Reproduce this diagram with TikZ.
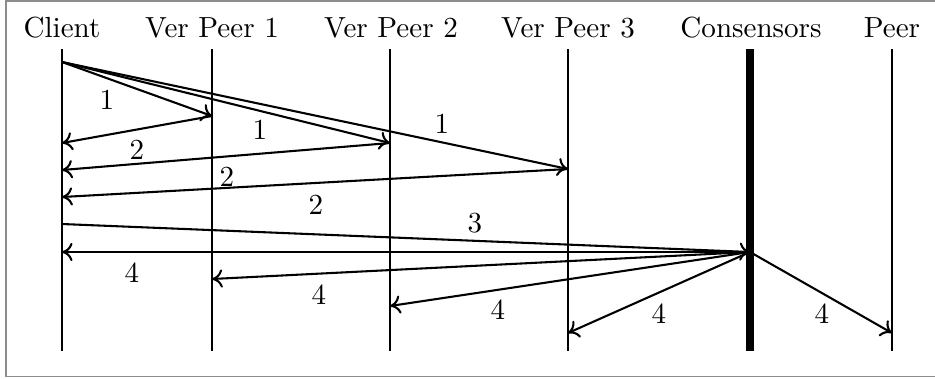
\documentclass[tikz,border=0pt]{standalone}
\usetikzlibrary{arrows.meta}
\begin{document}
\begin{tikzpicture}[x=0.3612pt,y=-0.3612pt,
  font=\fontsize{10.5}{12.6}\selectfont,
  life/.style={line width=0.75pt},
  thicklife/.style={line width=2.6pt},
  msg/.style={line width=0.75pt,-{To[length=3.8pt,width=6.6pt]}},
  head/.style={anchor=base,inner sep=0pt},
  lbl/.style={inner sep=0pt},
  frame/.style={draw=black!45,line width=0.5pt}]
\useasboundingbox (0,0) rectangle (935,378);
\draw[frame] (935,0.8) -- (6,0.8) -- (6,376.5) -- (935,376.5);
% headers
\node[head] (hc) at (62,37) {Client};
\node[head] (h1) at (212,37) {Ver Peer 1};
\node[head] (h2) at (391,37) {Ver Peer 2};
\node[head] (h3) at (568,37) {Ver Peer 3};
\node[head] (hs) at (751,37) {Consensors};
\node[head] (hp) at (892,37) {Peer};
% lifeline ends
\coordinate (ct) at (62,49);  \coordinate (cb) at (62,351);
\coordinate (at) at (212,49); \coordinate (ab) at (212,351);
\coordinate (bt) at (390,49); \coordinate (bb) at (390,351);
\coordinate (dt) at (568,49); \coordinate (db) at (568,351);
\coordinate (st) at (750,49); \coordinate (sb) at (750,351);
\coordinate (pt) at (892,49); \coordinate (pb) at (892,351);
% event points
\coordinate (c0) at (62,62);
\coordinate (a1) at (212,116);
\coordinate (b1) at (390,143);
\coordinate (d1) at (568,169);
\coordinate (c2a) at (62,143);
\coordinate (c2b) at (62,170);
\coordinate (c2c) at (62,197);
\coordinate (c3) at (62,224);
\coordinate (s3) at (750,252);
\coordinate (c4) at (62,252);
\coordinate (a4) at (212,279);
\coordinate (b4) at (390,306);
\coordinate (d4) at (568,333);
\coordinate (p4) at (892,333);
% messages
\draw[msg] (c0) -- (a1);
\draw[msg] (c0) -- (b1);
\draw[msg] (c0) -- (d1);
\draw[msg] (a1) -- (c2a);
\draw[msg] (b1) -- (c2b);
\draw[msg] (d1) -- (c2c);
\draw[msg] (c3) -- (s3);
\draw[msg] (s3) -- (c4);
\draw[msg] (s3) -- (a4);
\draw[msg] (s3) -- (b4);
\draw[msg] (s3) -- (d4);
\draw[msg] (s3) -- (p4);
% lifelines
\draw[life] (ct) -- (cb);
\draw[life] (at) -- (ab);
\draw[life] (bt) -- (bb);
\draw[life] (dt) -- (db);
\draw[thicklife] (st) -- (sb);
\draw[life] (pt) -- (pb);
% labels
\node[lbl] (l1a) at (107,100) {1};
\node[lbl] (l1b) at (260,130) {1};
\node[lbl] (l1c) at (442,124) {1};
\node[lbl] (l2a) at (137,150) {2};
\node[lbl] (l2b) at (227,177) {2};
\node[lbl] (l2c) at (316,205) {2};
\node[lbl] (l3) at (475,223) {3};
\node[lbl] (l4a) at (132,273) {4};
\node[lbl] (l4b) at (319,295) {4};
\node[lbl] (l4c) at (498,310) {4};
\node[lbl] (l4d) at (659,314) {4};
\node[lbl] (l4e) at (822,314) {4};
\end{tikzpicture}
\end{document}
